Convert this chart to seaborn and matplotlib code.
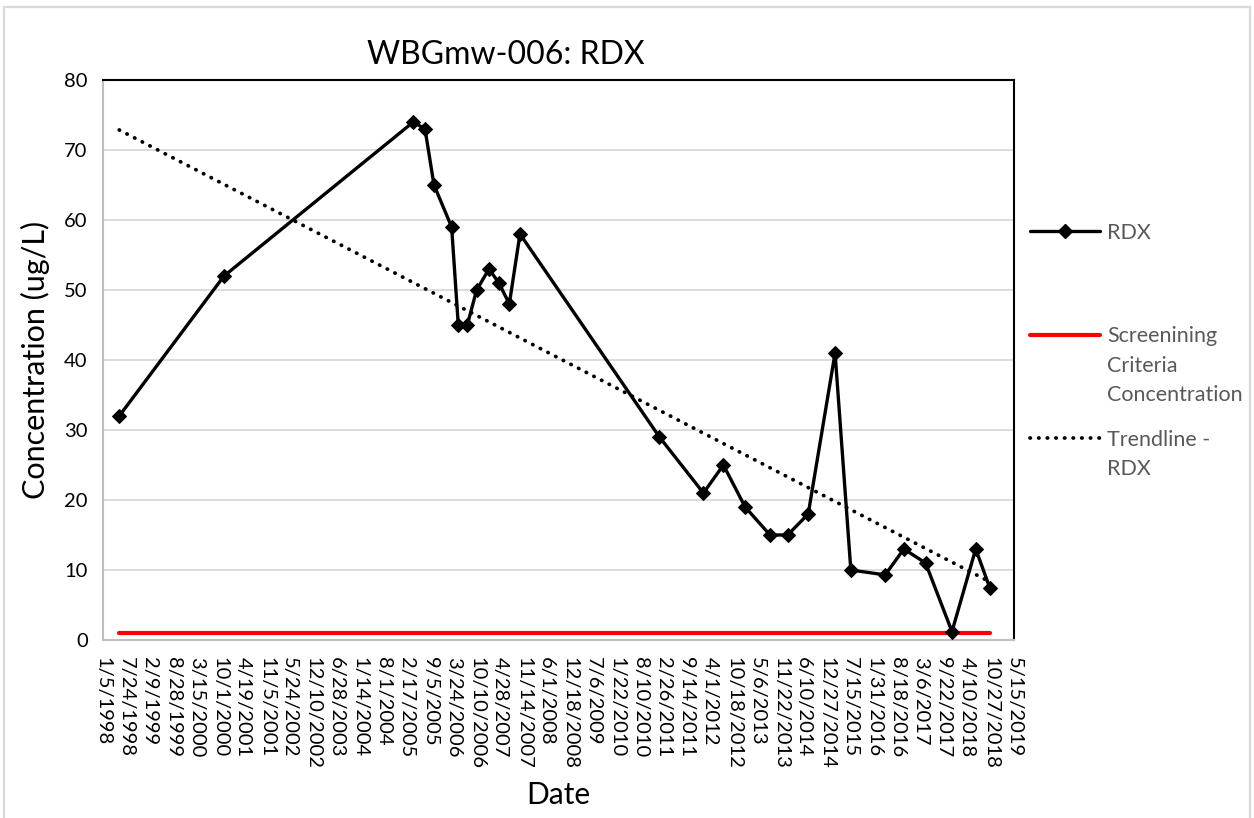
import numpy as np
import pandas as pd
import matplotlib
matplotlib.use("Agg")
import matplotlib.pyplot as plt
import matplotlib.dates as mdates
from matplotlib.lines import Line2D
from matplotlib.patches import Rectangle
import seaborn as sns

# Monitoring well WBGmw-006, RDX results
sample_dates = [
    "1998-05-24", "2000-11-06", "2005-04-15", "2005-07-24", "2005-10-09",
    "2006-03-09", "2006-05-05", "2006-07-21", "2006-10-09", "2007-01-23",
    "2007-04-18", "2007-07-16", "2007-10-15", "2011-01-21", "2012-02-02",
    "2012-07-22", "2013-01-24", "2013-08-25", "2014-01-23", "2014-07-18",
    "2015-03-05", "2015-07-18", "2016-05-07", "2016-10-14", "2017-04-18",
    "2017-11-30", "2018-06-21", "2018-10-21",
]
rdx_values = [
    32, 52, 74, 73, 65,
    59, 45, 45, 50, 53,
    51, 48, 58, 29, 21,
    25, 19, 15, 15, 18,
    41, 10, 9.3, 13, 11,
    1.2, 13, 7.4,
]
screening_level = 0.97
axis_start = "1998-01-05"
axis_end = "2019-05-15"
tick_step = "200D"
y_ticks = [0, 10, 20, 30, 40, 50, 60, 70, 80]

sns.set_theme(style="white")
plt.rcParams["font.family"] = ["Lato", "DejaVu Sans"]

W, H = 1254, 818
fig = plt.figure(figsize=(W / 100, H / 100), dpi=100)
fig.patch.set_facecolor("white")

# light outer chart border
fig.add_artist(Rectangle((4 / W, -0.01), (W - 8) / W, 1 - 7 / H + 0.01,
                         transform=fig.transFigure, fill=False,
                         edgecolor="#d9d9d9", lw=1.6))

ax = fig.add_axes([103 / W, 1 - 640 / H, (1014 - 103) / W, (640 - 80) / H])

df = pd.DataFrame({"Date": pd.to_datetime(sample_dates), "RDX": rdx_values})
dnum = mdates.date2num(df["Date"])

# screening criteria line spanning the sampling period
screen_df = pd.DataFrame({
    "Date": [df["Date"].iloc[0], df["Date"].iloc[-1]],
    "Level": [screening_level, screening_level],
})
sns.lineplot(data=screen_df, x="Date", y="Level", ax=ax, color="#ff0000",
             lw=3.0, zorder=2)

# linear trendline through the RDX results
slope, intercept = np.polyfit(dnum, df["RDX"].to_numpy(), 1)
trend_df = pd.DataFrame({
    "Date": [df["Date"].iloc[0], df["Date"].iloc[-1]],
    "Trend": [slope * dnum[0] + intercept, slope * dnum[-1] + intercept],
})
dot_style = (0, (0.1, 2.2))
sns.lineplot(data=trend_df, x="Date", y="Trend", ax=ax, color="black",
             lw=2.7, linestyle=dot_style, dash_capstyle="round", zorder=3)

sns.lineplot(data=df, x="Date", y="RDX", ax=ax, color="black", lw=2.4,
             marker="D", markersize=7.2, markeredgecolor="black",
             markerfacecolor="black", zorder=4)

ticks = pd.date_range(axis_start, axis_end, freq=tick_step)
ax.set_xlim(mdates.date2num(pd.Timestamp(axis_start)),
            mdates.date2num(pd.Timestamp(axis_end)))
ax.set_xticks(mdates.date2num(ticks))
ax.set_xticklabels([f"{d.month}/{d.day}/{d.year}" for d in ticks],
                   rotation=-90, fontsize=14.5, color="black")
ax.set_ylim(0, 80)
ax.set_yticks(y_ticks)
ax.set_yticklabels([str(v) for v in y_ticks], fontsize=14.5, color="black")
ax.tick_params(axis="both", length=0)
ax.tick_params(axis="x", pad=12)
ax.tick_params(axis="y", pad=11)

ax.yaxis.grid(True, color="#d9d9d9", lw=1.3)
ax.xaxis.grid(False)
ax.set_axisbelow(True)
for side in ["left", "bottom"]:
    ax.spines[side].set_color("#bfbfbf")
    ax.spines[side].set_linewidth(1.5)
for side in ["top", "right"]:
    ax.spines[side].set_color("black")
    ax.spines[side].set_linewidth(1.5)

ax.set_xlabel("Date", fontsize=21.5, color="black", labelpad=9)
ax.set_ylabel("Concentration (ug/L)", fontsize=22, color="black", labelpad=10)
fig.text(506 / W, 1 - 55 / H, "WBGmw-006: RDX", fontsize=23, ha="center",
         va="center", color="black")

if ax.get_legend() is not None:
    ax.get_legend().remove()

handles = [
    Line2D([], [], color="black", lw=2.4, marker="D", markersize=7.2),
    Line2D([], [], color="#ff0000", lw=3.0),
    Line2D([], [], color="black", lw=2.7, linestyle=dot_style,
           dash_capstyle="round"),
]
first_lines = ["RDX", "Screenining", "Trendline -"]
more_lines = [[], ["Criteria", "Concentration"], ["RDX"]]
leg_fs = 15.5
leg = fig.legend(handles, first_lines, loc="upper left",
                 bbox_to_anchor=(1030 / W, 1 - 223 / H), frameon=False,
                 fontsize=leg_fs, labelcolor="#595959", handlelength=3.25,
                 handletextpad=0.33, labelspacing=3.87, borderpad=0,
                 borderaxespad=0)

fig.canvas.draw()
renderer = fig.canvas.get_renderer()
line_pitch = 29.5
for txt, extra in zip(leg.get_texts(), more_lines):
    bb = txt.get_window_extent(renderer)
    for k, s in enumerate(extra, start=1):
        fig.text(bb.x0 / W, (bb.y0 - k * line_pitch) / H, s, fontsize=leg_fs,
                 color="#595959", ha="left", va="bottom")

fig.savefig("out.png", dpi=100, facecolor="white")
